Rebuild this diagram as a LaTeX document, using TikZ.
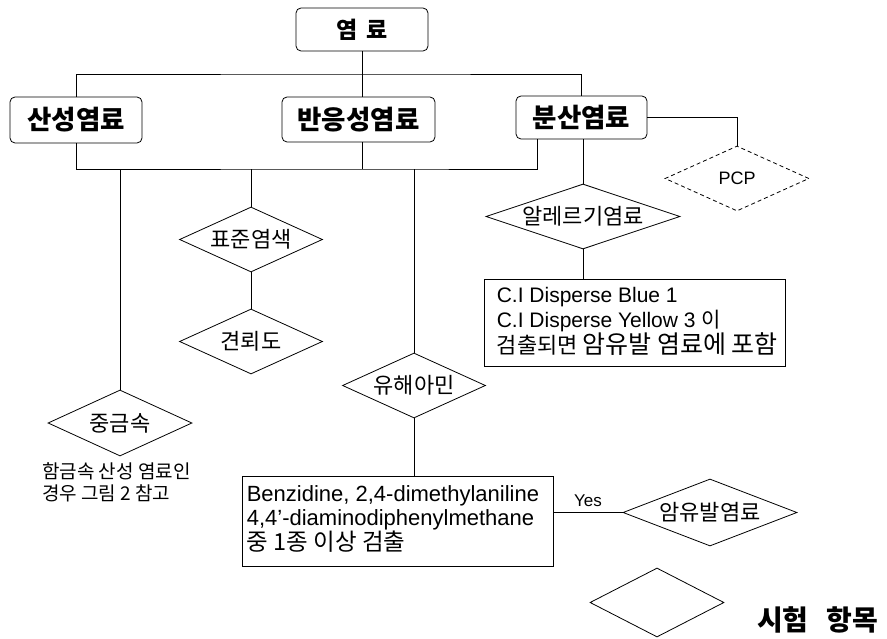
\documentclass[tikz,border=0pt]{standalone}
\usepackage{fontspec}
\setmainfont{Liberation Sans}
\newfontfamily\kr{Noto Sans CJK KR}
\usetikzlibrary{shapes.geometric}
\tikzset{
  rbox/.style={draw, line width=0.8pt, rounded corners=5pt, inner sep=0pt,
    font=\kr\bfseries\fontsize{26.5}{30}\selectfont},
  dlabel/.style={inner sep=0pt, font=\kr\fontsize{22}{24}\selectfont},
  dia/.style={draw, diamond, line width=0.8pt, inner sep=0pt,
    label={[dlabel]center:#1}},
  dia/.default={},
  sbox/.style={draw, line width=0.8pt, inner sep=0pt},
  stext/.style={anchor=west, inner sep=0pt, align=left},
  conn/.style={line width=0.8pt},
}
\begin{document}
\begin{tikzpicture}[x=1pt,y=-1pt]
\useasboundingbox (0,0) rectangle (887,639);
% top level boxes
\node[rbox, minimum width=132pt, minimum height=43pt,
      font=\kr\bfseries\fontsize{23}{26}\selectfont] (top) at (362,29.5) {염\hspace{9pt}료};
\node[rbox, minimum width=132pt, minimum height=46pt] (san) at (76,120) {산성염료};
\node[rbox, minimum width=153pt, minimum height=45pt] (ban) at (358.5,119.5) {반응성염료};
\node[rbox, minimum width=131pt, minimum height=43pt] (bun) at (581.5,117.5) {분산염료};
% diamonds
\node[dia=표준염색, minimum width=143pt, minimum height=65pt] (std) at (251,239.5) {};
\node[dia=견뢰도, minimum width=143pt, minimum height=65pt] (fast) at (251,341.5) {};
\node[dia=중금속, minimum width=144pt, minimum height=66pt] (heavy) at (120,423) {};
\node[dia=유해아민, minimum width=143pt, minimum height=65pt] (amine) at (414,385.5) {};
\node[dia=암유발염료, minimum width=174pt, minimum height=67pt] (carc) at (710,512.5) {};
\node[dia=알레르기염료, minimum width=194pt, minimum height=65pt] (allergy) at (583,216.5) {};
\node[draw, diamond, line width=0.8pt, inner sep=0pt, dash pattern=on 4pt off 3pt,
      minimum width=144pt, minimum height=65pt,
      label={[inner sep=0pt, font=\fontsize{18}{20}\selectfont]center:PCP}] (pcp) at (737,178.5) {};
% legend
\node[dia, minimum width=134pt, minimum height=69pt] (legend) at (657,602.5) {};
\node[font=\kr\bfseries\fontsize{28}{30}\selectfont, anchor=west, inner sep=0pt] (legtext) at (757,620) {시험\hspace{18pt}항목};
% text boxes
\node[sbox, minimum width=301pt, minimum height=87pt] (ci) at (634.5,322.5) {};
\node[stext, font=\fontsize{21}{24.5}\selectfont] (citext) at ([xshift=13pt,yshift=1pt]ci.west)
  {C.I Disperse Blue 1\\C.I Disperse Yellow 3 {\kr 이}\\{\kr\fontsize{22}{24.5}\selectfont 검출되면\hspace{5pt}\fontsize{25}{24.5}\selectfont 암유발 염료에 포함}};
\node[sbox, minimum width=311pt, minimum height=90pt] (benz) at (397.5,521) {};
\node[stext, font=\fontsize{22}{24}\selectfont] (benztext) at ([xshift=5pt,yshift=2pt]benz.west)
  {Benzidine, 2,4-dimethylaniline\\4,4'-diaminodiphenylmethane\\{\kr\fontsize{23.5}{24}\selectfont 중 1종 이상 검출}};
% note
\node[anchor=north west, align=left, inner sep=0pt,
      font=\kr\fontsize{19}{22}\selectfont] (note) at (42,462) {함금속 산성 염료인\\경우 그림 2 참고};
% connectors
\coordinate (bus1) at (362,74);
\coordinate (bus2) at (362,169);
\coordinate (bl) at ([xshift=22pt]bun.south west);
\draw[conn] (top.south) -- (top.south |- ban.north);
\draw[conn] (san.north) |- (bus1) -| (bun.north);
\draw[conn] (san.south) |- (bus2) -| (bl);
\draw[conn] (top.south |- ban.south) -- (bus2);
\draw[conn] (heavy.north) -- (heavy.north |- bus2);
\draw[conn] (std.north) -- (std.north |- bus2);
\draw[conn] (amine.north) -- (amine.north |- bus2);
\draw[conn] (std.south) -- (fast.north);
\draw[conn] (amine.south) -- (amine.south |- benz.north);
\draw[conn] (allergy.north |- bun.south) -- (allergy.north);
\draw[conn] (allergy.south) -- (allergy.south |- ci.north);
\draw[conn] (bun.east) -| (pcp.north);
\draw[conn] (benz.east |- carc.west) -- (carc.west)
  node[midway, above=5pt, inner sep=0pt, font=\fontsize{17}{20}\selectfont] {Yes};
\end{tikzpicture}
\end{document}
